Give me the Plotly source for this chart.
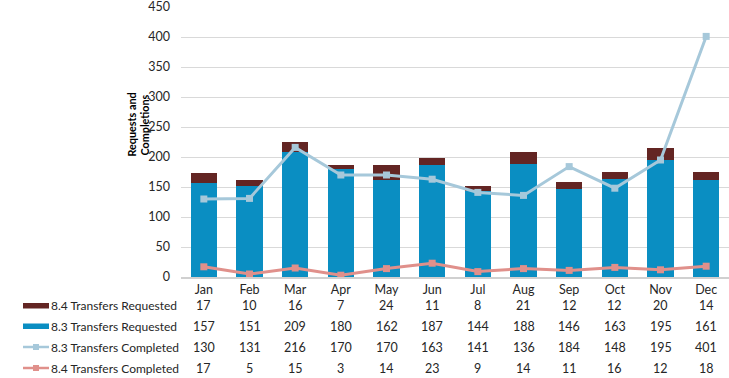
import plotly.graph_objects as go

months = ["Jan", "Feb", "Mar", "Apr", "May", "Jun", "Jul", "Aug", "Sep", "Oct", "Nov", "Dec"]
req_84 = [17, 10, 16, 7, 24, 11, 8, 21, 12, 12, 20, 14]
req_83 = [157, 151, 209, 180, 162, 187, 144, 188, 146, 163, 195, 161]
comp_83 = [130, 131, 216, 170, 170, 163, 141, 136, 184, 148, 195, 401]
comp_84 = [17, 5, 15, 3, 14, 23, 9, 14, 11, 16, 12, 18]
y_ticks = [0, 50, 100, 150, 200, 250, 300, 350, 400, 450]

C_84R = "#632523"
C_83R = "#0A8EC2"
C_83C = "#A6C8DA"
C_84C = "#E0908B"
FONT = "Lato"
TXT = "#262626"

fig = go.Figure()
fig.add_trace(go.Bar(x=months, y=req_83, marker=dict(color=C_83R, line=dict(width=0)), name="8.3 Transfers Requested"))
fig.add_trace(go.Bar(x=months, y=req_84, marker=dict(color=C_84R, line=dict(width=0)), name="8.4 Transfers Requested"))
fig.add_trace(go.Scatter(x=months, y=comp_83, mode="lines+markers",
                         line=dict(color=C_83C, width=3),
                         marker=dict(symbol="square", size=7, color=C_83C),
                         name="8.3 Transfers Completed"))
fig.add_trace(go.Scatter(x=months, y=comp_84, mode="lines+markers",
                         line=dict(color=C_84C, width=3),
                         marker=dict(symbol="square", size=7, color=C_84C),
                         name="8.4 Transfers Completed"))

L, T, PW, PH = 181, 7, 548, 270
def px_x(px):
    return (px - L) / PW
def px_y(py):
    return (T + PH - py) / PH

rows = [
    ("8.4 Transfers Requested", req_84, C_84R, "bar", 305.5),
    ("8.3 Transfers Requested", req_83, C_83R, "bar", 326),
    ("8.3 Transfers Completed", comp_83, C_83C, "line", 347),
    ("8.4 Transfers Completed", comp_84, C_84C, "line", 368),
]
annotations = []
shapes = []
for label, vals, col, kind, py in rows:
    yp = px_y(py)
    annotations.append(dict(x=px_x(49), y=yp, xref="paper", yref="paper", text=label,
                            showarrow=False, xanchor="left", yanchor="middle",
                            font=dict(family=FONT, size=12, color=TXT)))
    for m, v in zip(months, vals):
        annotations.append(dict(x=m, y=yp, xref="x", yref="paper", text=str(v),
                                showarrow=False, xanchor="center", yanchor="middle",
                                font=dict(family=FONT, size=12.5, color=TXT)))
    if kind == "bar":
        shapes.append(dict(type="rect", xref="paper", yref="paper",
                           x0=px_x(23), x1=px_x(49), y0=px_y(py + 3), y1=px_y(py - 2.5),
                           fillcolor=col, line=dict(width=0)))
    else:
        shapes.append(dict(type="line", xref="paper", yref="paper",
                           x0=px_x(23), x1=px_x(49), y0=yp, y1=yp,
                           line=dict(color=col, width=2.5)))
        shapes.append(dict(type="rect", xref="paper", yref="paper",
                           x0=px_x(33), x1=px_x(39), y0=px_y(py + 3), y1=px_y(py - 3),
                           fillcolor=col, line=dict(width=0)))

for txt, xp in (("Requests and", 131.5), ("Completions", 144.5)):
    annotations.append(dict(x=px_x(xp), y=px_y(125), xref="paper", yref="paper",
                            text=txt, textangle=-90, showarrow=False,
                            xanchor="center", yanchor="middle",
                            font=dict(family=FONT, size=10.8, color="#000000", weight="bold")))

fig.update_layout(
    width=729, height=378,
    margin=dict(l=L, r=729 - L - PW, t=T, b=378 - T - PH),
    paper_bgcolor="white", plot_bgcolor="white",
    barmode="stack", bargap=0.43,
    showlegend=False,
    font=dict(family=FONT, size=12.5, color=TXT),
    annotations=annotations, shapes=shapes,
)
fig.update_xaxes(showgrid=False, showline=True, linecolor="#d0d0d0", linewidth=1.5,
                 ticks="", tickfont=dict(family=FONT, size=12.5, color=TXT), range=[-0.5, 11.5])
fig.update_yaxes(range=[0, 450], tickvals=y_ticks, showgrid=True, gridcolor="#d9d9d9",
                 gridwidth=1.3, zeroline=False, showline=False, ticks="",
                 ticklabeloverflow="allow",
                 tickfont=dict(family=FONT, size=12.5, color=TXT), ticklabelstandoff=10)

fig.write_html("out.html", config={"displayModeBar": False},
               post_script="document.body.style.margin='0';document.body.style.padding='0';")
